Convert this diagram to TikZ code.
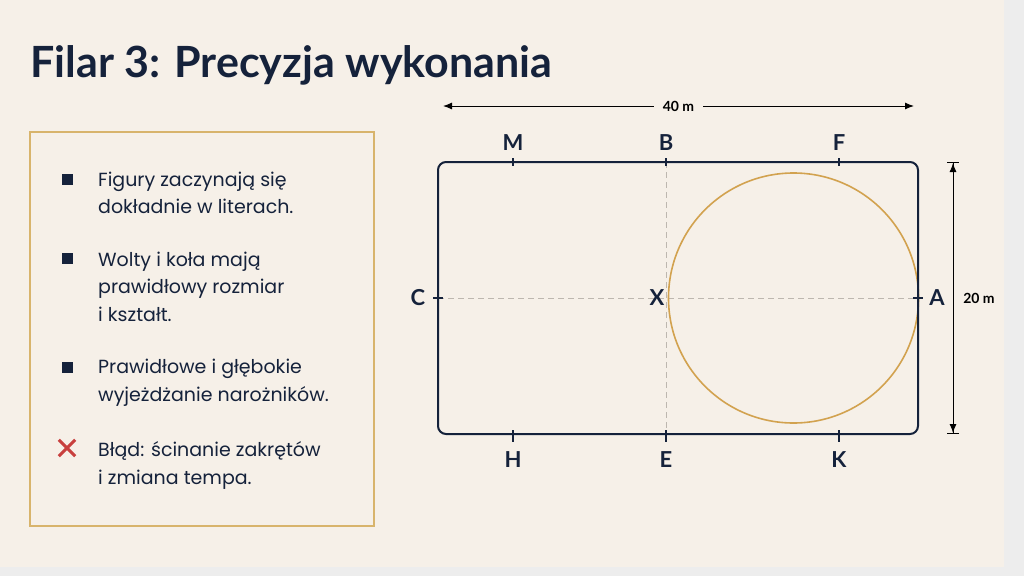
\documentclass[tikz,border=0pt]{standalone}
\usepackage{fontspec}
\setmainfont{Lato}
\newfontfamily\itemfont{Poppins}
\usetikzlibrary{arrows.meta,positioning}
\definecolor{navy}{HTML}{15223B}
\definecolor{cream}{HTML}{F6F0E8}
\definecolor{frame}{HTML}{D8B46C}
\definecolor{ring}{HTML}{D2A24F}
\definecolor{errred}{HTML}{C8403E}
\definecolor{guide}{HTML}{BDB7AF}
\tikzset{
  letter/.style={font=\fontsize{22}{22}\selectfont\bfseries, text=navy, inner sep=0pt},
  itemtext/.style={anchor=base west, align=left, font=\itemfont\fontsize{19}{27.5}\selectfont, text=navy, inner sep=0pt},
  sq/.style={fill=navy, minimum size=11pt, inner sep=0pt},
  tick/.style={navy, line width=1.4pt},
  dim/.style={black, line width=1pt},
  measure/.style={font=\fontsize{14}{14}\selectfont\bfseries, inner sep=0pt, text=black}
}
\begin{document}
\begin{tikzpicture}[x=1pt, y=-1pt]
    % page and slide
    \fill[black!7] (0,0) rectangle (1024,576);
    \fill[cream] (0,0) rectangle (1004,567);
    \useasboundingbox (0,0) rectangle (1024,576);

    % title
    \node[anchor=base west, inner sep=0pt, font=\fontsize{43}{43}\selectfont\bfseries, text=navy] (title) at (30,77) {Filar 3: Precyzja wykonania};

    % left panel
    \draw[frame, line width=1.2pt] (30,132) rectangle (374,526);
    \node[sq] (b1) at (67,179) {};
    \node[sq] (b2) at (67,258) {};
    \node[sq] (b3) at (67,367) {};
    \node[minimum size=16pt, inner sep=0pt] (b4) at (67,448) {};
    \draw[errred, line width=3pt] (b4.north west) -- (b4.south east) (b4.south west) -- (b4.north east);
    \node[itemtext] (t1) at (98,213.5) {Figury zaczynają się\\dokładnie w literach.};
    \node[itemtext] (t2) at (98,321) {Wolty i koła mają\\prawidłowy rozmiar\\i kształt.};
    \node[itemtext] (t3) at (98,401) {Prawidłowe i głębokie\\wyjeżdżanie narożników.};
    \node[itemtext] (t4) at (98,484) {Błąd: ścinanie zakrętów\\i zmiana tempa.};

    % arena
    \coordinate (nw) at (438,162);
    \coordinate (se) at (918,434);
    \draw[guide, line width=0.9pt, dash pattern=on 6pt off 4pt] (438,298) -- (918,298);
    \draw[guide, line width=0.9pt, dash pattern=on 6pt off 4pt] (666,162) -- (666,434);
    \draw[ring, line width=1.6pt] (793.5,298) circle [radius=125pt];
    \draw[navy, line width=2pt, rounded corners=8pt] (nw) rectangle (se);

    % ticks
    \foreach \x in {513,666,839} {
        \draw[tick] (\x,158) -- (\x,166);
        \draw[tick] (\x,430) -- (\x,442);
    }
    \draw[tick] (433,298) -- (443,298);
    \draw[tick] (913,298) -- (923,298);

    % letters
    \node[letter] (M) at (513,143) {M};
    \node[letter] (B) at (666,143) {B};
    \node[letter] (F) at (839,143) {F};
    \node[letter] (H) at (513,460) {H};
    \node[letter] (E) at (666,460) {E};
    \node[letter] (K) at (839,460) {K};
    \node[letter] (C) at (418,298) {C};
    \node[letter] (X) at (657,298) {X};
    \node[letter] (A) at (937,298) {A};

    % dimensions
    \coordinate (w) at (443,106);
    \coordinate (e) at (914,106);
    \draw[dim, {Latex[length=9pt,width=7pt]}-{Latex[length=9pt,width=7pt]}] (w) -- node[measure, fill=cream, inner xsep=9pt] (len) {40 m} (e);
    \coordinate (n) at (953,162);
    \coordinate (s) at (953,434);
    \draw[dim, {Bar[width=12pt] Latex[length=9pt,width=7pt]}-{Latex[length=9pt,width=7pt] Bar[width=12pt]}] (n) -- (s);
    \node[measure] (wid) at (979,298) {20 m};
\end{tikzpicture}
\end{document}
